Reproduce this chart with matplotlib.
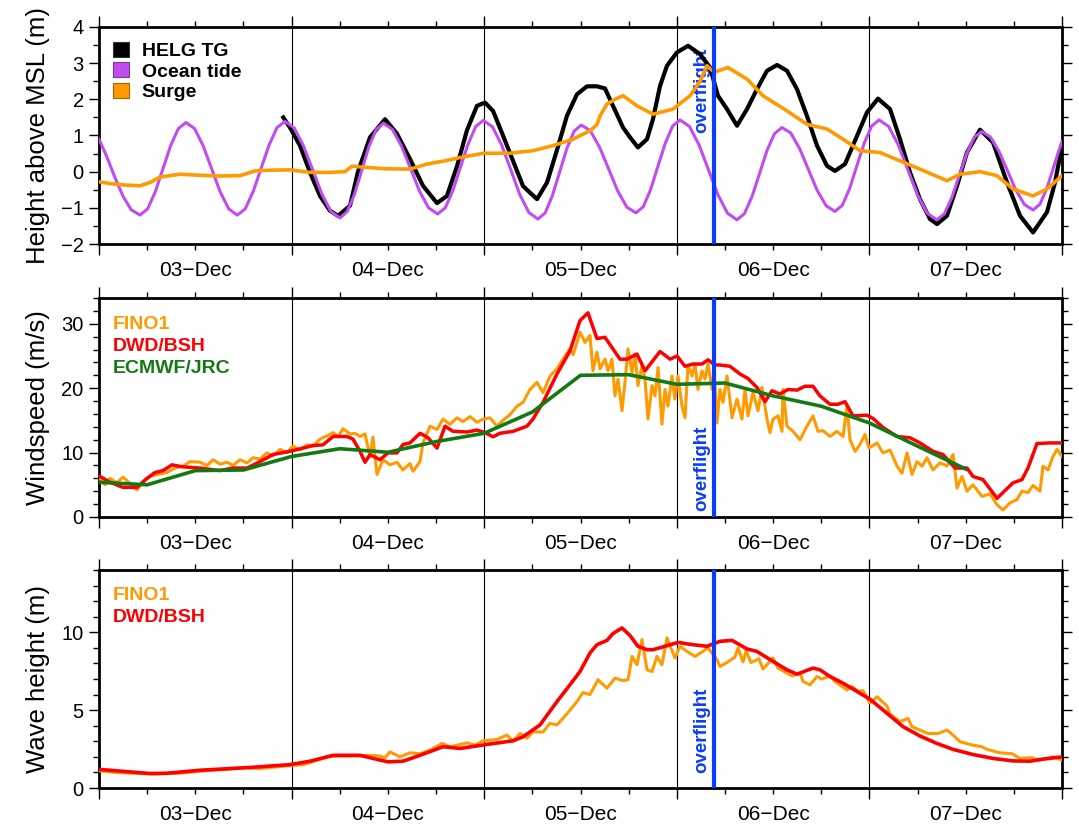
import matplotlib
matplotlib.use("Agg")
import matplotlib.pyplot as plt
from matplotlib.ticker import MultipleLocator, FuncFormatter
from matplotlib.patches import Patch
from matplotlib.lines import Line2D

plt.rcParams['font.family'] = ['Liberation Sans', 'DejaVu Sans']

# ---------------- data (time in hours since 03-Dec 00:00) ----------------
day_labels = ['03\u2212Dec', '04\u2212Dec', '05\u2212Dec', '06\u2212Dec', '07\u2212Dec']
overflight_h = 76.6

tide_t = [0, 1, 2, 3, 4, 5.1, 6.06, 7.01, 7.97, 8.93, 9.88, 10.84, 11.91, 12.97, 14.04, 15.1,
          16.17, 17.23, 18.22, 19.21, 20.21, 21.2, 22.19, 23.18, 24.32, 25.46, 26.61, 27.75,
          28.89, 30.03, 30.93, 31.83, 32.73, 33.63, 34.53, 35.43, 36.56, 37.69, 38.82, 39.94,
          41.07, 42.2, 43.15, 44.1, 45.05, 46.0, 46.95, 47.9, 49.03, 50.17, 51.3, 52.43, 53.57,
          54.7, 55.6, 56.5, 57.4, 58.3, 59.2, 60.1, 61.23, 62.37, 63.5, 64.63, 65.77, 66.9,
          67.82, 68.73, 69.65, 70.57, 71.48, 72.4, 73.58, 74.77, 75.95, 77.13, 78.32, 79.5,
          80.43, 81.37, 82.3, 83.23, 84.17, 85.1, 86.2, 87.3, 88.4, 89.5, 90.6, 91.7, 92.62,
          93.53, 94.45, 95.37, 96.28, 97.2, 98.4, 99.6, 100.8, 102.0, 103.2, 104.4, 105.33,
          106.27, 107.2, 108.13, 109.07, 110.0, 111.07, 112.13, 113.2, 114.27, 115.33, 116.4,
          117.25, 118.1, 118.95, 119.5, 120]
tide_v = [0.9, 0.40, -0.17, -0.68, -1.05, -1.2, -1.03, -0.56, 0.08, 0.72, 1.19, 1.36, 1.19, 0.72,
          0.08, -0.56, -1.03, -1.2, -1.03, -0.55, 0.10, 0.74, 1.22, 1.39, 1.21, 0.72, 0.06,
          -0.61, -1.10, -1.28, -1.10, -0.63, 0.03, 0.69, 1.16, 1.34, 1.17, 0.71, 0.09, -0.54,
          -1.00, -1.17, -1.00, -0.52, 0.13, 0.77, 1.25, 1.42, 1.24, 0.74, 0.06, -0.63, -1.13,
          -1.31, -1.14, -0.66, -0.01, 0.64, 1.12, 1.29, 1.13, 0.68, 0.08, -0.53, -0.98, -1.14,
          -0.97, -0.50, 0.15, 0.79, 1.26, 1.43, 1.25, 0.74, 0.05, -0.64, -1.15, -1.33, -1.16,
          -0.69, -0.06, 0.58, 1.05, 1.22, 1.07, 0.64, 0.06, -0.52, -0.94, -1.10, -0.93, -0.47,
          0.17, 0.80, 1.26, 1.43, 1.25, 0.74, 0.05, -0.64, -1.15, -1.33, -1.17, -0.72, -0.11,
          0.50, 0.95, 1.11, 0.96, 0.57, 0.03, -0.52, -0.91, -1.06, -0.90, -0.47, 0.12, 0.51, 0.83]

tg_t = [22.97, 23.8, 25.05, 26.29, 27.54, 28.78, 29.78, 31.28, 32.27, 33.77, 35.64, 37.13, 38.75,
        40.37, 42.12, 43.36, 44.61, 45.86, 47.1, 48.1, 49.1, 50.34, 51.59, 52.84, 54.58, 55.83,
        57.07, 58.32, 59.56, 60.81, 62.05, 63.05, 64.05, 65.3, 66.17, 67.16, 68.29, 69.03, 69.91,
        70.78, 72.03, 73.4, 74.9, 76.14, 77.13, 78.26, 79.5, 80.75, 81.99, 83.24, 84.49, 85.73,
        86.98, 88.22, 89.47, 90.72, 91.71, 92.96, 94.46, 95.7, 97.07, 98.57, 99.81, 101.06,
        102.3, 103.55, 104.42, 105.67, 106.92, 108.16, 109.78, 111.4, 113.15, 114.77, 116.39,
        118.13, 119.13, 120.0]
tg_v = [1.5, 1.22, 0.72, -0.02, -0.67, -1.08, -1.22, -0.94, 0.0, 0.95, 1.45, 1.05, 0.35, -0.39,
        -0.87, -0.67, 0.15, 1.15, 1.82, 1.91, 1.68, 1.0, 0.3, -0.4, -0.76, -0.3, 0.6, 1.55, 2.14,
        2.36, 2.36, 2.3, 1.82, 1.22, 0.95, 0.67, 0.9, 1.45, 2.37, 2.93, 3.3, 3.48, 3.25, 2.88,
        2.1, 1.73, 1.27, 1.73, 2.28, 2.79, 2.95, 2.79, 2.28, 1.54, 0.72, 0.16, 0.02, 0.21, 0.99,
        1.64, 2.02, 1.73, 0.9, -0.02, -0.76, -1.31, -1.45, -1.22, -0.39, 0.53, 1.16, 0.81, -0.3,
        -1.22, -1.68, -1.12, -0.3, 0.72]

surge_t = [0, 1.37, 3.24, 5.11, 6.36, 7.6, 10.09, 12.59, 15.08, 17.57, 19.44, 21.31, 23.8, 26.29,
           28.78, 30.65, 31.53, 33.15, 35.64, 38.75, 40.87, 43.12, 44.98, 47.98, 51.22, 54.08,
           56.57, 59.07, 61.18, 62.05, 62.43, 63.3, 64.3, 65.3, 67.04, 69.03, 71.53, 73.64, 74.9,
           75.76, 76.64, 78.38, 80.75, 82.74, 85.73, 88.22, 90.72, 92.71, 94.83, 97.32, 99.81,
           102.3, 105.67, 107.29, 109.78, 111.9, 113.89, 116.39, 118.13, 120.0]
surge_v = [-0.28, -0.33, -0.37, -0.39, -0.3, -0.15, -0.07, -0.1, -0.12, -0.11, 0.02, 0.04, 0.05,
           -0.02, -0.02, 0.0, 0.15, 0.12, 0.08, 0.07, 0.21, 0.3, 0.39, 0.51, 0.51, 0.58, 0.72, 0.9,
           1.13, 1.3, 1.54, 1.87, 2.0, 2.1, 1.82, 1.59, 1.73, 2.1, 2.5, 2.93, 2.75, 2.88, 2.56, 2.1,
           1.68, 1.31, 1.18, 0.9, 0.58, 0.53, 0.3, 0.07, -0.25, -0.07, 0.0, -0.11, -0.48, -0.67,
           -0.48, -0.11]

wind_fino_t = [0.12, 0.75, 1.37, 2.24, 2.99, 3.86, 4.74, 5.48, 6.36, 7.23, 8.47, 9.47, 10.47, 11.34,
               12.59, 13.46, 14.21, 15.08, 15.95, 16.7, 17.57, 18.44, 19.19, 20.06, 20.93, 21.68,
               22.55, 23.43, 24.17, 25.05, 25.92, 26.67, 27.54, 28.41, 29.16, 29.78, 30.41, 31.28,
               31.9, 32.52, 33.15, 33.77, 34.14, 34.64, 35.39, 36.26, 37.13, 37.88, 38.75, 39.13,
               40.0, 40.37, 41.25, 42.12, 42.87, 43.74, 44.61, 45.36, 46.23, 47.1, 47.85, 48.72,
               49.6, 50.34, 51.22, 52.09, 52.84, 53.71, 54.58, 55.33, 56.2, 57.07, 57.82, 58.69,
               59.07, 59.56, 59.94, 60.56, 61.18, 61.56, 62.05, 62.43, 63.05, 63.43, 63.92, 64.3,
               64.67, 65.17, 65.54, 65.92, 66.42, 66.79, 67.16, 67.66, 68.04, 68.41, 68.91, 69.28,
               69.66, 70.15, 70.53, 70.9, 71.4, 71.77, 72.15, 72.65, 73.02, 73.39, 73.89, 74.27,
               74.64, 75.14, 75.51, 75.89, 76.39, 76.76, 77.01, 77.38, 77.76, 78.26, 78.88, 79.5,
               80.12, 80.5, 80.87, 81.5, 82.12, 82.62, 83.24, 83.61, 83.99, 84.61, 85.11, 85.23,
               85.73, 86.48, 87.35, 88.22, 88.97, 89.59, 90.22, 91.09, 91.96, 92.71, 93.21, 93.58,
               94.21, 94.83, 95.45, 95.95, 96.95, 97.69, 98.57, 99.44, 100.06, 100.69, 101.31,
               101.93, 102.56, 103.18, 103.92, 104.8, 105.67, 106.42, 106.92, 107.54, 108.16,
               108.91, 110.03, 111.03, 111.9, 112.65, 113.52, 114.39, 115.01, 115.76, 116.39,
               117.26, 117.63, 118.26, 118.88, 119.38, 120.0]
wind_fino_v = [5.8, 5.0, 6.0, 5.3, 6.2, 5.2, 4.2, 5.5, 6.3, 6.6, 6.9, 7.6, 7.9, 8.6, 8.5, 8.0, 8.9,
               8.2, 8.5, 8.0, 8.9, 8.4, 9.2, 9.0, 9.95, 9.5, 10.5, 10.0, 11.0, 10.4, 11.2, 11.0,
               12.1, 12.6, 13.1, 12.5, 13.7, 12.9, 13.0, 12.5, 12.9, 9.4, 12.4, 6.6, 8.9, 8.1, 8.5,
               7.3, 8.3, 7.1, 8.6, 11.5, 14.1, 13.6, 15.2, 14.4, 15.4, 14.8, 15.6, 14.7, 15.2, 15.4,
               14.1, 15.0, 15.9, 17.2, 17.8, 19.8, 20.9, 19.3, 21.9, 23.0, 24.5, 26.1, 25.2, 27.1,
               28.7, 27.1, 28.2, 22.7, 25.6, 23.0, 24.5, 22.7, 24.5, 18.8, 21.4, 16.5, 20.9, 26.1,
               22.4, 25.3, 20.4, 23.5, 21.4, 15.2, 20.4, 18.8, 23.2, 14.4, 19.8, 17.2, 21.9, 18.3,
               21.9, 17.2, 15.4, 23.5, 21.9, 23.75, 19.8, 22.7, 21.4, 23.75, 19.8, 20.4, 14.6, 19.8,
               17.8, 21.9, 15.4, 18.3, 15.2, 19.8, 15.7, 19.3, 16.5, 20.1, 15.2, 13.1, 15.2, 15.7,
               13.3, 19.8, 14.1, 13.3, 12.0, 14.1, 15.7, 13.3, 13.4, 12.5, 13.3, 12.5, 17.2, 12.0,
               10.2, 11.25, 12.8, 10.7, 11.5, 9.95, 10.4, 7.9, 6.8, 9.95, 6.6, 8.6, 7.9, 9.2, 7.3,
               8.4, 7.9, 9.7, 4.5, 6.3, 4.0, 5.0, 3.2, 3.6, 1.9, 1.1, 2.2, 2.7, 4.0, 3.8, 4.9, 4.0,
               7.9, 7.3, 9.4, 10.5, 9.4]

wind_dwd_t = [0.12, 1.37, 2.99, 4.74, 5.98, 6.98, 7.97, 9.1, 10.34, 12.59, 15.08, 16.7, 18.44,
              20.06, 21.68, 23.8, 25.42, 26.67, 27.91, 29.16, 30.9, 31.65, 32.52, 33.15, 33.77,
              35.02, 36.01, 37.13, 37.88, 38.75, 40.0, 41.0, 42.12, 43.12, 44.11, 45.86, 47.1,
              48.1, 49.1, 49.97, 51.59, 53.33, 54.08, 55.33, 57.07, 58.69, 59.94, 60.93, 62.05,
              63.05, 64.92, 65.79, 67.04, 68.04, 69.91, 71.16, 72.03, 73.02, 74.02, 75.14, 75.89,
              76.76, 77.38, 78.63, 79.88, 80.87, 81.99, 82.99, 83.86, 84.86, 85.86, 86.98, 87.97,
              88.97, 89.84, 91.09, 92.09, 92.96, 93.96, 95.7, 96.45, 97.69, 99.44, 101.06, 102.3,
              103.92, 105.17, 106.67, 108.16, 108.91, 110.16, 111.9, 113.89, 115.01, 115.76,
              116.88, 118.5, 120.0]
wind_dwd_v = [6.3, 5.4, 4.6, 4.6, 6.0, 6.9, 7.2, 8.1, 7.8, 7.6, 7.2, 7.6, 7.6, 8.6, 9.7, 10.2,
              10.7, 11.1, 11.2, 12.5, 12.5, 12.1, 10.2, 8.5, 9.7, 8.9, 9.95, 9.95, 11.25, 11.5,
              13.0, 12.3, 10.7, 14.1, 13.3, 13.2, 13.5, 13.1, 12.45, 13.0, 13.3, 14.1, 15.2, 17.8,
              22.2, 25.8, 30.5, 31.7, 27.7, 27.9, 24.5, 24.5, 25.3, 22.7, 25.7, 24.5, 25.0, 23.4,
              23.75, 23.75, 24.4, 23.6, 23.6, 23.4, 22.2, 21.5, 20.1, 17.9, 19.6, 19.1, 19.8,
              19.7, 20.3, 20.3, 18.8, 17.5, 17.5, 17.9, 15.7, 15.8, 15.3, 13.9, 12.5, 12.3, 11.5,
              10.2, 9.7, 7.6, 7.6, 6.3, 5.8, 2.9, 5.3, 5.8, 7.6, 11.4, 11.5, 11.5]

wind_ecm_t = [0, 6, 12, 18, 24, 30, 36, 42, 48, 54, 60, 66, 72, 78, 84, 90, 96, 102, 108]
wind_ecm_v = [5.4, 5.0, 7.2, 7.3, 9.4, 10.6, 10.05, 11.7, 13.0, 16.3, 22.0, 22.1, 20.6, 20.8,
              18.8, 17.2, 14.6, 11.0, 7.45]

wave_fino_t = [0, 2, 4, 7, 10, 13, 16, 18, 20, 22, 24, 25.5, 27, 28.5, 30, 32, 33.4, 35.02,
               35.64, 36.26, 37.51, 38.75, 40.0, 41.25, 42.74, 43.74, 44.61, 45.86, 46.85, 47.85,
               49.6, 50.84, 51.59, 52.46, 53.33, 54.08, 55.33, 56.2, 57.07, 57.82, 58.69, 59.56,
               60.31, 61.18, 62.18, 63.3, 64.3, 65.3, 65.92, 66.42, 67.04, 67.66, 68.29, 68.91,
               69.53, 70.15, 70.78, 71.77, 72.4, 73.27, 74.27, 75.89, 77.01, 77.38, 78.26, 79.25,
               79.63, 80.25, 80.62, 81.25, 82.24, 82.74, 83.99, 84.61, 86.36, 87.35, 87.73, 88.6,
               89.47, 90.09, 91.09, 91.71, 93.21, 93.83, 94.58, 95.2, 96.07, 96.95, 98.19, 98.57,
               99.81, 100.81, 101.31, 102.3, 103.3, 104.55, 105.67, 106.42, 107.29, 108.91,
               110.03, 110.65, 112.27, 113.77, 114.77, 116.26, 117.01, 118.88, 120.0]
wave_fino_v = [1.1, 1.0, 0.95, 0.9, 0.95, 1.1, 1.2, 1.3, 1.25, 1.35, 1.45, 1.5, 1.75, 2.0, 2.05,
               2.05, 2.1, 2.05, 1.95, 2.32, 2.0, 2.26, 2.2, 2.43, 2.86, 2.65, 2.75, 2.9, 2.75,
               3.03, 3.12, 3.4, 3.0, 3.5, 3.2, 3.6, 3.6, 4.15, 4.05, 4.48, 5.0, 5.55, 6.13, 6.0,
               6.95, 6.41, 7.06, 6.9, 6.95, 8.45, 7.92, 9.53, 7.59, 7.48, 8.45, 7.92, 9.64, 8.35,
               9.1, 8.77, 8.45, 8.99, 8.24, 7.81, 8.06, 8.41, 8.99, 8.1, 8.8, 8.06, 8.3, 7.64,
               8.35, 7.7, 7.2, 7.37, 6.84, 6.63, 7.16, 7.0, 7.2, 6.84, 6.3, 6.52, 6.2, 6.25, 5.45,
               5.86, 5.27, 4.75, 4.26, 4.47, 3.94, 3.72, 3.5, 3.5, 3.72, 3.4, 2.97, 2.75, 2.65,
               2.48, 2.26, 2.2, 1.9, 1.95, 1.77, 2.0, 1.8]

wave_dwd_t = [0.12, 6.36, 8.47, 12.59, 18.82, 23.8, 26.29, 29.16, 32.52, 34.14, 36.01, 37.88,
              40.0, 42.87, 44.98, 48.35, 51.59, 52.84, 54.95, 57.07, 58.69, 59.94, 61.18, 62.05,
              63.3, 64.05, 65.17, 66.17, 67.16, 68.29, 69.03, 70.78, 72.15, 74.02, 75.76, 77.38,
              78.88, 80.75, 81.99, 83.99, 85.73, 86.98, 88.97, 89.84, 91.09, 92.71, 94.46, 96.07,
              98.19, 100.19, 102.3, 104.42, 106.42, 108.91, 111.4, 113.89, 116.01, 117.26, 120.0]
wave_dwd_v = [1.19, 0.93, 0.95, 1.14, 1.32, 1.5, 1.72, 2.1, 2.1, 1.9, 1.68, 1.72, 2.1, 2.65,
              2.54, 2.8, 3.03, 3.29, 4.05, 5.55, 6.63, 7.48, 8.67, 9.2, 9.48, 9.92, 10.28, 9.79,
              9.1, 8.88, 8.88, 9.14, 9.35, 9.2, 9.1, 9.42, 9.48, 8.93, 8.77, 8.13, 7.59, 7.31,
              7.7, 7.59, 7.16, 6.73, 6.2, 5.7, 4.8, 3.94, 3.34, 2.86, 2.48, 2.15, 1.9, 1.74, 1.72,
              1.83, 2.0]

# ---------------- colours ----------------
C_TG = 'black'
C_TIDE = '#c04cf2'
C_ORANGE = '#ff9a00'
C_RED = '#ff0000'
C_GREEN = '#137a13'
C_BLUE = '#0a3cff'

fig = plt.figure(figsize=(10.79, 8.27), dpi=100)
W, H = 1079, 827
L, R = 99, 1062
panels = [(27, 244), (298, 517), (570, 788)]
axes = []
for top, bot in panels:
    ax = fig.add_axes([L / W, 1 - bot / H, (R - L) / W, (bot - top) / H])
    axes.append(ax)

def day_fmt(v, pos):
    k = int(round(v))
    if k % 24 == 12 and 0 <= k // 24 < len(day_labels):
        return day_labels[k // 24]
    return ''

def style(ax, ymin, ymax, ymaj, ymin_step):
    ax.set_xlim(0, 120)
    ax.set_ylim(ymin, ymax)
    for s in ax.spines.values():
        s.set_linewidth(2.0)
    ax.xaxis.set_major_locator(MultipleLocator(24))
    ax.xaxis.set_minor_locator(MultipleLocator(6))
    ax.xaxis.set_major_formatter(FuncFormatter(lambda v, p: ''))
    ax.xaxis.set_minor_formatter(FuncFormatter(day_fmt))
    ax.yaxis.set_major_locator(MultipleLocator(ymaj))
    ax.yaxis.set_minor_locator(MultipleLocator(ymin_step))
    ax.tick_params(axis='x', which='major', direction='out', length=8, width=1.0,
                   top=True, bottom=True)
    ax.tick_params(axis='x', which='minor', direction='out', length=4.5, width=1.0,
                   top=True, bottom=True, labelsize=15, pad=7.5)
    ax.tick_params(axis='y', which='major', direction='out', length=7, width=1.0,
                   left=True, right=True, labelsize=14.5, pad=4)
    ax.tick_params(axis='y', which='minor', direction='out', length=4, width=1.0,
                   left=True, right=True)
    for d in (24, 48, 72, 96):
        ax.axvline(d, color='black', lw=0.8, zorder=1)

# ---- panel 1: sea level ----
ax1 = axes[0]
style(ax1, -2, 4, 1, 0.5)
ax1.plot(tg_t, tg_v, color=C_TG, lw=3.0, zorder=3)
ax1.plot(tide_t, tide_v, color=C_TIDE, lw=2.2, zorder=4)
ax1.plot(surge_t, surge_v, color=C_ORANGE, lw=2.6, zorder=5)
ax1.set_ylabel('Height above MSL (m)', fontsize=18.5, labelpad=8)
h1 = [Patch(facecolor=C_TG, edgecolor='#333333', lw=0.8),
      Patch(facecolor=C_TIDE, edgecolor='#7a3a9a', lw=0.8),
      Patch(facecolor=C_ORANGE, edgecolor='#a86400', lw=0.8)]
ax1.legend(h1, ['HELG TG', 'Ocean tide', 'Surge'], loc='upper left',
           bbox_to_anchor=(14 / 963, 1 - 15 / 217), frameon=False, borderpad=0,
           borderaxespad=0, handlelength=0.82, handleheight=0.82, handletextpad=0.65,
           labelspacing=0.1, prop={'weight': 'bold', 'size': 14})

# ---- panel 2: wind speed ----
ax2 = axes[1]
style(ax2, 0, 34, 10, 2)
ax2.plot(wind_fino_t, wind_fino_v, color=C_ORANGE, lw=2.2, zorder=3)
ax2.plot(wind_dwd_t, wind_dwd_v, color=C_RED, lw=2.5, zorder=4)
ax2.plot(wind_ecm_t, wind_ecm_v, color=C_GREEN, lw=2.6, zorder=5)
ax2.set_ylabel('Windspeed (m/s)', fontsize=18.5, labelpad=8)
h2 = [Line2D([], [], color=C_ORANGE), Line2D([], [], color=C_RED), Line2D([], [], color=C_GREEN)]
ax2.legend(h2, ['FINO1', 'DWD/BSH', 'ECMWF/JRC'], loc='upper left',
           bbox_to_anchor=(14 / 963, 1 - 17 / 219), frameon=False, borderpad=0,
           borderaxespad=0, handlelength=0, handletextpad=0, labelspacing=0.23,
           labelcolor='linecolor', prop={'weight': 'bold', 'size': 14})

# ---- panel 3: wave height ----
ax3 = axes[2]
style(ax3, 0, 14, 5, 1)
ax3.plot(wave_fino_t, wave_fino_v, color=C_ORANGE, lw=2.2, zorder=3)
ax3.plot(wave_dwd_t, wave_dwd_v, color=C_RED, lw=2.6, zorder=4)
ax3.set_ylabel('Wave height (m)', fontsize=18.5, labelpad=8)
h3 = [Line2D([], [], color=C_ORANGE), Line2D([], [], color=C_RED)]
ax3.legend(h3, ['FINO1', 'DWD/BSH'], loc='upper left',
           bbox_to_anchor=(14 / 963, 1 - 16 / 218), frameon=False, borderpad=0,
           borderaxespad=0, handlelength=0, handletextpad=0, labelspacing=0.23,
           labelcolor='linecolor', prop={'weight': 'bold', 'size': 14})

# ---- overflight markers ----
text_y = [2.25, 7.6, 3.72]
for ax, ty in zip(axes, text_y):
    ax.axvline(overflight_h, color=C_BLUE, lw=3.0, zorder=10)
    ax.annotate('overflight', xy=(overflight_h, ty), xytext=(-2.5, 0),
                textcoords='offset points', rotation=90, ha='right', va='center',
                color=C_BLUE, fontsize=13.5, fontweight='bold', zorder=2)

fig.align_ylabels(axes)
fig.savefig('out.png', dpi=100)
